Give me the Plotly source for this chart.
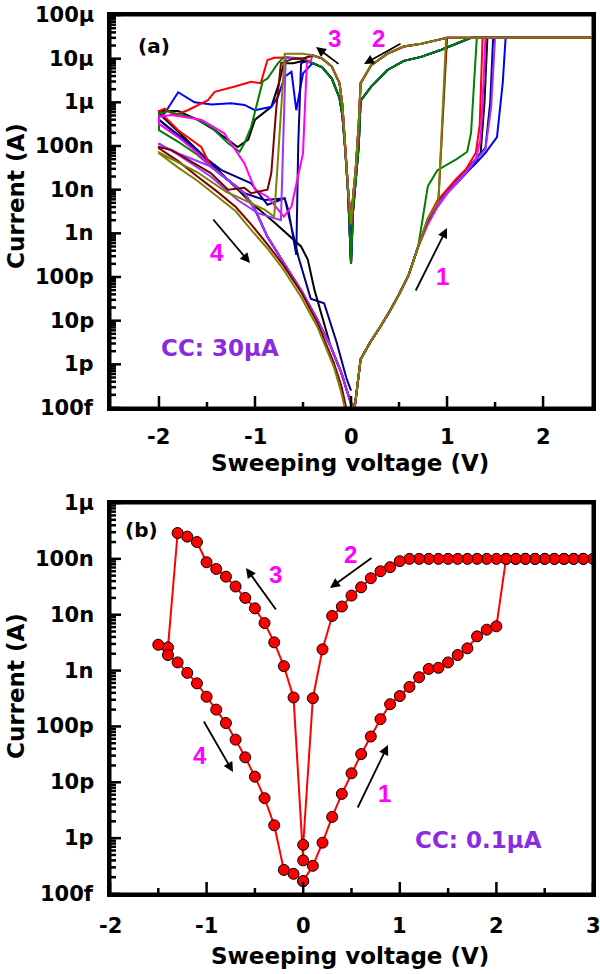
import math
import plotly.graph_objects as go

# ================= Panel (a) data (A vs V) =================
A_SW1_V = [0.0, 0.04, 0.1, 0.2, 0.3, 0.4, 0.5, 0.6, 0.7]
A_SW1_I = [1.3e-13, 1.1e-13, 1.3e-12, 3.2e-12, 7e-12, 1.6e-11, 4e-11, 1.1e-10, 5e-10]
A_SW2_HI_V = [2.5, 1.0, 0.94, 0.73, 0.55, 0.38, 0.21, 0.1, 0.08, 0.05, 0.02, 0.0]
A_SW2_HI_I = [3e-5, 3e-5, 2.8e-5, 2.2e-5, 1.9e-5, 1.3e-5, 7.1e-6, 2.75e-6, 3.2e-7, 3.2e-8, 6.3e-9, 1.6e-9]
A_SW2_LO_V = [2.5, 1.25, 0.94, 0.73, 0.55, 0.38, 0.21, 0.1, 0.08, 0.05, 0.02, 0.0]
A_SW2_LO_I = [3e-5, 3e-5, 1.6e-5, 1.1e-5, 8.9e-6, 5.5e-6, 2.3e-6, 1.1e-6, 1e-7, 2e-8, 3e-9, 2e-10]
A_SW3_V = [0.0, -0.03, -0.06, -0.09, -0.12, -0.2, -0.3, -0.4]
A_SW3_HI_I = [1.6e-9, 1e-8, 1.3e-7, 8.7e-7, 2.75e-6, 6.6e-6, 1.0e-5, 1.2e-5]
A_SW3_LO_I = [2e-10, 8e-9, 8e-8, 5e-7, 1.26e-6, 3.5e-6, 6.3e-6, 7.9e-6]
A_SW4_V = [-1.46, -1.3, -1.11, -1.0, -0.87, -0.7, -0.52, -0.35, -0.21, -0.1, -0.03, 0.0]
A_SW4_I = [3.4e-8, 1.8e-8, 8.3e-9, 3.5e-9, 8.3e-10, 2.1e-10, 5e-11, 1.05e-11, 2.5e-12, 6.3e-13, 2e-13, 1.26e-13]

# red
R1V = [0.8, 0.9, 1.0, 1.1, 1.2, 1.3, 1.34, 1.37, 2.5]
R1I = [2.2e-9, 5.6e-9, 1e-8, 1.8e-8, 3e-8, 7e-8, 3e-7, 3e-5, 3e-5]
R3V = [-0.5, -0.6, -0.7, -0.8, -0.87, -0.94, -1.04, -1.21, -1.42, -1.49, -1.7, -1.84, -1.94, -2.0]
R3I = [1e-5, 1.05e-5, 1.07e-5, 1.05e-5, 9.3e-6, 2.75e-6, 2.95e-6, 2.3e-6, 1.74e-6, 1.12e-6, 6.6e-7, 5.1e-7, 7.2e-7, 6.3e-7]
R4V = [-2.0, -1.8, -1.56]
R4I = [6.3e-7, 2.3e-7, 9.5e-8]
# blue
B1V = [0.8, 0.9, 1.0, 1.1, 1.2, 1.3, 1.4, 1.52, 1.58, 1.61, 2.5]
B1I = [2e-9, 5e-9, 9e-9, 1.5e-8, 2.4e-8, 4e-8, 7e-8, 1.6e-7, 2.8e-6, 3e-5, 3e-5]
B3V = [-0.5, -0.57, -0.62, -0.69, -0.76, -0.83, -1.0, -1.11, -1.25, -1.45, -1.63, -1.8, -1.94, -2.0]
B3I = [4.6e-6, 6.6e-7, 5e-6, 3.9e-6, 1.35e-6, 7.9e-7, 6.6e-7, 8.7e-7, 9.5e-7, 8.9e-7, 1e-6, 1.7e-6, 5.6e-7, 4.7e-7]
B4V = [-2.0, -1.8, -1.6]
B4I = [4e-7, 1.8e-7, 8e-8]
# black
K1V = [0.8, 0.9, 1.0, 1.1, 1.2, 1.3, 1.35, 1.39, 1.42, 2.5]
K1I = [1.8e-9, 4.5e-9, 8.9e-9, 1.4e-8, 2.4e-8, 4.5e-8, 7e-8, 1e-6, 3e-5, 3e-5]
K3V = [-0.5, -0.6, -0.7, -0.75, -0.83, -1.0, -1.07, -1.18, -1.42, -1.6, -1.8, -2.0]
K3I = [8.9e-6, 7.9e-6, 7.9e-6, 2.75e-6, 7.9e-7, 4e-7, 1.4e-7, 9.5e-8, 2.3e-7, 4e-7, 6.3e-7, 6.3e-7]
K4V = [-2.0, -1.5, -1.04, -0.8, -0.52, -0.45, -0.38, -0.21, -0.1, -0.03, 0.0]
K4I = [5.6e-7, 5e-8, 5e-9, 1.8e-9, 5e-10, 2.5e-10, 5e-11, 2.5e-12, 6.3e-13, 2e-13, 1.26e-13]
# green
G1V = [0.8, 0.9, 1.0, 1.1, 1.21, 1.25, 1.28, 1.31, 2.5]
G1I = [1.2e-8, 2.8e-8, 3.8e-8, 5e-8, 7.4e-8, 2e-7, 2.5e-6, 3e-5, 3e-5]
G3V = [-0.5, -0.6, -0.7, -0.76, -0.87, -0.92, -0.97, -1.04, -1.11, -1.16, -1.28, -1.46, -1.63, -1.91, -2.0]
G3I = [1e-5, 1.05e-5, 1.07e-5, 7.9e-6, 3.5e-6, 3e-6, 1.1e-6, 2.75e-7, 1.15e-7, 7.4e-8, 1.15e-7, 2.75e-7, 4.3e-7, 6.2e-7, 5.6e-7]
G4V = [-2.0, -1.8, -1.6]
G4I = [2.3e-7, 1.25e-7, 6.3e-8]
# magenta
M1V = [0.8, 0.9, 1.0, 1.1, 1.2, 1.3, 1.35, 1.38, 1.4, 2.5]
M1I = [1.6e-9, 4e-9, 8e-9, 1.4e-8, 2.5e-8, 5e-8, 1.5e-7, 3e-6, 3e-5, 3e-5]
M3V = [-0.42, -0.46, -0.5, -0.62, -0.7, -0.87, -1.0, -1.11, -1.32, -1.56, -1.87, -2.0]
M3I = [8.9e-6, 7.9e-6, 6.8e-8, 4.1e-9, 2.4e-9, 6.9e-9, 1e-8, 4e-8, 1.95e-7, 4e-7, 5.1e-7, 4.7e-7]
M4V = [-2.0, -1.8, -1.6]
M4I = [3.2e-7, 1.6e-7, 7e-8]
# navy
N1V = [0.8, 0.9, 1.0, 1.1, 1.2, 1.3, 1.4, 1.45, 1.48, 2.5]
N1I = [2e-9, 5e-9, 9e-9, 1.6e-8, 2.8e-8, 5e-8, 9e-8, 1e-6, 3e-5, 3e-5]
N3V = [-0.45, -0.52, -0.55, -0.57, -0.65, -0.69, -0.87, -1.04, -1.35, -1.7, -2.0]
N3I = [8.9e-6, 7.9e-6, 1e-7, 3.2e-10, 3.2e-9, 6.3e-9, 4.5e-9, 1.4e-8, 2.8e-8, 1.1e-7, 4e-7]
N4V = [-2.0, -1.6, -1.3, -1.11, -0.9, -0.69, -0.55, -0.42, -0.28, -0.15, -0.05, 0.0]
N4I = [4e-7, 8e-8, 1.8e-8, 8.3e-9, 5.8e-9, 6.3e-9, 3e-10, 3.2e-11, 2.5e-11, 3.2e-12, 5e-13, 2.5e-13]
# purple
P1V = [0.8, 0.9, 1.0, 1.1, 1.2, 1.3, 1.4, 1.46, 1.5, 2.5]
P1I = [1.8e-9, 4.5e-9, 8.5e-9, 1.5e-8, 2.6e-8, 4.8e-8, 8.5e-8, 8e-7, 3e-5, 3e-5]
P3V = [-0.5, -0.6, -0.68, -0.7, -0.73, -0.97, -1.18, -1.46, -1.8, -2.0]
P3I = [1e-5, 1e-5, 1.1e-5, 3.2e-7, 2e-9, 2.9e-9, 5.8e-9, 2e-8, 6.3e-8, 1.15e-7]
P4V = [-2.0, -1.8, -1.6]
P4I = [1.1e-7, 6.8e-8, 4.5e-8]
# maroon
D1V = [0.8, 0.91, 1.0, 2.5]
D1I = [2e-9, 5.6e-9, 3e-5, 3e-5]
D3V = [-0.5, -0.6, -0.73, -0.78, -0.83, -0.87, -1.04, -1.11, -1.28, -1.46, -1.87, -2.0]
D3I = [1e-5, 1e-5, 7.9e-6, 6.6e-7, 2.4e-8, 1e-8, 8.3e-9, 1.1e-8, 1e-8, 2.4e-8, 8.1e-8, 9.5e-8]
D4V = [-2.0, -1.8, -1.6, -1.39, -1.2, -1.04, -0.87, -0.7, -0.52, -0.35, -0.18, -0.1, -0.05]
D4I = [8.9e-8, 4.5e-8, 2e-8, 8.9e-9, 4e-9, 1.6e-9, 5.6e-10, 1.8e-10, 4.5e-11, 8.9e-12, 1.1e-12, 3.2e-13, 1e-13]
# olive
O1V = [0.8, 0.91, 0.99, 2.5]
O1I = [2.2e-9, 5.4e-9, 3e-5, 3e-5]
O3V = [-0.5, -0.6, -0.69, -0.8, -0.9, -1.16, -1.3, -1.6, -2.0]
O3I = [1.3e-5, 1.3e-5, 1.3e-5, 2.4e-9, 3.5e-9, 6.5e-9, 8.9e-9, 2.5e-8, 7.1e-8]
O4V = [-2.0, -1.8, -1.6, -1.39, -1.2, -1.04, -0.87, -0.7, -0.52, -0.35, -0.18, -0.1, -0.06]
O4I = [6.8e-8, 3.2e-8, 1.6e-8, 6.9e-9, 3.2e-9, 1.2e-9, 4.5e-10, 1.45e-10, 3.5e-11, 7.2e-12, 8.9e-13, 2.2e-13, 8.9e-14]

# ================= Panel (b) data =================
B_V = [0.0, 0.1, 0.2, 0.3, 0.4, 0.5, 0.6, 0.7, 0.8, 0.9, 1.0, 1.1, 1.2, 1.3, 1.4, 1.5, 1.6, 1.7, 1.8, 1.9, 2.0,
       2.1, 2.2, 2.3, 2.4, 2.5, 2.6, 2.7, 2.8, 2.9, 3.0,
       2.9, 2.8, 2.7, 2.6, 2.5, 2.4, 2.3, 2.2, 2.1, 2.0, 1.9, 1.8, 1.7, 1.6, 1.5, 1.4, 1.3, 1.2, 1.1,
       1.0, 0.9, 0.8, 0.7, 0.6, 0.5, 0.4, 0.3, 0.2, 0.1, 0.0,
       0.0, -0.1, -0.2, -0.3, -0.4, -0.5, -0.6, -0.7, -0.8, -0.9, -1.0, -1.1, -1.2, -1.3, -1.4, -1.5,
       -1.4, -1.3, -1.2, -1.1, -1.0, -0.9, -0.8, -0.7, -0.6, -0.5, -0.4, -0.3, -0.2, -0.1, 0.0]
B_I = [1.7e-13, 3.2e-13, 8.3e-13, 2.4e-12, 6.2e-12, 1.45e-11, 3.2e-11, 6.6e-11, 1.35e-10, 2.5e-10, 3.5e-10,
       5.1e-10, 7.6e-10, 1.07e-9, 1.12e-9, 1.4e-9, 1.9e-9, 2.5e-9, 4.1e-9, 5.4e-9, 6.2e-9,
       1e-7, 1e-7, 1e-7, 1e-7, 1e-7, 1e-7, 1e-7, 1e-7, 1e-7, 1e-7,
       1e-7, 1e-7, 1e-7, 1e-7, 1e-7, 1e-7, 1e-7, 1e-7, 1e-7, 1e-7, 1e-7, 1e-7, 1e-7, 1e-7, 1e-7, 1e-7, 1e-7, 1e-7, 1e-7,
       9.1e-8, 7.1e-8, 6.0e-8, 4.5e-8, 3.1e-8, 2.2e-8, 1.4e-8, 9.5e-9, 2.4e-9, 3.2e-10, 7.6e-13,
       4e-13, 3.3e-10, 1.2e-9, 3.2e-9, 7.1e-9, 1.3e-8, 2.0e-8, 3.2e-8, 4.8e-8, 6.6e-8, 8.7e-8, 2.0e-7, 2.5e-7, 2.9e-7, 2.6e-9, 2.9e-9,
       1.9e-9, 1.4e-9, 9.1e-10, 5.9e-10, 3.4e-10, 2.0e-10, 1.15e-10, 5.8e-11, 2.8e-11, 1.26e-11, 5.2e-12, 1.7e-12, 2.7e-13, 2.3e-13, 1.7e-13]

Y_TICKS_A = [1e-13, 1e-12, 1e-11, 1e-10, 1e-9, 1e-8, 1e-7, 1e-6, 1e-5, 1e-4]
Y_TEXT_A = ["100f", "1p", "10p", "100p", "1n", "10n", "100n", "1µ", "10µ", "100µ"]
Y_TICKS_B = [1e-13, 1e-12, 1e-11, 1e-10, 1e-9, 1e-8, 1e-7, 1e-6]
Y_TEXT_B = ["100f", "1p", "10p", "100p", "1n", "10n", "100n", "1µ"]
X_TICKS_A = [-2, -1, 0, 1, 2]
X_TICKS_B = [-2, -1, 0, 1, 2, 3]
X_MINOR_A = [-1.5, -0.5, 0.5, 1.5]
X_MINOR_B = [-1.5, -0.5, 0.5, 1.5, 2.5]

HI = (A_SW2_HI_V, A_SW2_HI_I, A_SW3_HI_I)
LO = (A_SW2_LO_V, A_SW2_LO_I, A_SW3_LO_I)
traces_a = [
    ("black", K1V, K1I, K3V, K3I, K4V, K4I, False, LO),
    ("#0000ff", B1V, B1I, B3V, B3I, B4V, B4I, True, LO),
    ("#000080", N1V, N1I, N3V, N3I, N4V, N4I, False, LO),
    ("#ff0000", R1V, R1I, R3V, R3I, R4V, R4I, True, HI),
    ("#008000", G1V, G1I, G3V, G3I, G4V, G4I, True, LO),
    ("#ff00ff", M1V, M1I, M3V, M3I, M4V, M4I, True, HI),
    ("#9933ff", P1V, P1I, P3V, P3I, P4V, P4I, True, HI),
    ("#800000", D1V, D1I, D3V, D3I, D4V, D4I, False, HI),
    ("#808000", O1V, O1I, O3V, O3I, O4V, O4I, False, HI),
]

fig = go.Figure()
for col, v1, i1, v3, i3, v4, i4, use_sw4, (s2v, s2i, s3i) in traces_a:
    xs = A_SW1_V + v1 + s2v + A_SW3_V + v3 + v4 + (A_SW4_V if use_sw4 else [])
    ys = A_SW1_I + i1 + s2i + s3i + i3 + i4 + (A_SW4_I if use_sw4 else [])
    fig.add_trace(go.Scatter(x=xs, y=ys, mode="lines", line=dict(color=col, width=2),
                             xaxis="x", yaxis="y", showlegend=False, hoverinfo="skip"))

fig.add_trace(go.Scatter(x=B_V, y=B_I, mode="lines+markers",
                         line=dict(color="#ff0000", width=2),
                         marker=dict(symbol="circle", size=11, color="#ff0000",
                                     line=dict(color="black", width=1)),
                         xaxis="x2", yaxis="y2", showlegend=False))

W, H = 600, 974
L, R, T, B = 110, 7, 15, 80
PW, PH = W - L - R, H - T - B

def px(x, y):
    return (x - L) / PW, 1 - (y - T) / PH

ya_dom = [px(0, 408)[1], 1.0]
yb_dom = [0.0, px(0, 503)[1]]
XR_A = [-2.51, 2.52]
XR_B = [-2.0, 3.0]
YR_A = [-13, -4]
YR_B = [-13, -6]

axis_style = dict(showline=True, linewidth=3, linecolor="black", mirror=True, showgrid=False,
                  zeroline=False, ticks="", showticklabels=False, automargin=False)

fig.update_layout(
    width=W, height=H, margin=dict(l=L, r=R, t=T, b=B, autoexpand=False),
    plot_bgcolor="white", paper_bgcolor="white", showlegend=False,
    xaxis=dict(domain=[0, 1], anchor="y", range=XR_A, **axis_style),
    yaxis=dict(domain=ya_dom, anchor="x", type="log", range=YR_A, **axis_style),
    xaxis2=dict(domain=[0, 1], anchor="y2", range=XR_B, **axis_style),
    yaxis2=dict(domain=yb_dom, anchor="x2", type="log", range=YR_B, **axis_style),
)

# frame and tick marks drawn as line traces in each panel's own axes
def frame_and_ticks(xa, ya, xr, yr, dom, xmaj, xmin):
    hpx = (dom[1] - dom[0]) * PH
    dxp = (xr[1] - xr[0]) / PW        # data units per pixel (x)
    dyp = (yr[1] - yr[0]) / hpx       # decades per pixel (y)
    lo, hi = 10 ** yr[0], 10 ** yr[1]
    fx = [xr[0], xr[1], xr[1], xr[0], xr[0]]
    fy = [lo, lo, hi, hi, lo]
    fig.add_trace(go.Scatter(x=fx, y=fy, mode="lines", line=dict(color="black", width=3),
                             xaxis=xa, yaxis=ya, cliponaxis=False, hoverinfo="skip", showlegend=False))
    tx, ty = [], []
    for e in range(yr[0], yr[1] + 1):
        for m in range(1, 10):
            if e == yr[1] and m > 1:
                break
            ln = 11 if m == 1 else 6
            v = m * 10.0 ** e
            tx += [xr[0], xr[0] + ln * dxp, None]
            ty += [v, v, None]
    for v in xmaj:
        tx += [v, v, None]
        ty += [lo, 10 ** (yr[0] + 12 * dyp), None]
    for v in xmin:
        tx += [v, v, None]
        ty += [lo, 10 ** (yr[0] + 6 * dyp), None]
    fig.add_trace(go.Scatter(x=tx, y=ty, mode="lines", line=dict(color="black", width=2.5),
                             xaxis=xa, yaxis=ya, cliponaxis=False, hoverinfo="skip",
                             showlegend=False, connectgaps=False))

frame_and_ticks("x", "y", XR_A, YR_A, ya_dom, X_TICKS_A, X_MINOR_A)
frame_and_ticks("x2", "y2", XR_B, YR_B, yb_dom, X_TICKS_B, X_MINOR_B)

ann = []

def text(x, y, s, size=20, color="black", family="DejaVu Sans", angle=0, xanchor="center"):
    X, Y = px(x, y)
    ann.append(dict(x=X, y=Y, xref="paper", yref="paper", text=s, showarrow=False,
                    xanchor=xanchor, yanchor="middle", textangle=angle, borderpad=0,
                    font=dict(family=family, size=size, color=color, weight="bold")))

def arrow(tx, ty, hx, hy):
    X, Y = px(hx, hy)
    ann.append(dict(x=X, y=Y, xref="paper", yref="paper", ax=tx - hx, ay=ty - hy,
                    axref="pixel", ayref="pixel", text="", showarrow=True,
                    arrowhead=2, arrowsize=1.1, arrowwidth=1.8, arrowcolor="black", standoff=0))

def ylabels(yref, vals, texts):
    for v, t in zip(vals, texts):
        ann.append(dict(x=-15 / PW, y=math.log10(v), xref="paper", yref=yref, text=t,
                        showarrow=False, xanchor="right", yanchor="middle", borderpad=0,
                        font=dict(family="DejaVu Sans", size=21, color="black", weight="bold")))

def xlabels(xref, vals, ypx):
    Y = px(0, ypx)[1]
    for v in vals:
        ann.append(dict(x=v, y=Y, xref=xref, yref="paper", text=str(v), showarrow=False,
                        xanchor="center", yanchor="middle", borderpad=0,
                        font=dict(family="DejaVu Sans", size=21, color="black", weight="bold")))

ylabels("y", Y_TICKS_A, Y_TEXT_A)
ylabels("y2", Y_TICKS_B, Y_TEXT_B)
xlabels("x", X_TICKS_A, 437)
xlabels("x2", X_TICKS_B, 926)

MAG = "#ff00ff"
VIO = "#8a2be2"
for yc in (196, 686):
    text(16, yc, "Current (A)", size=23, angle=-90)
for yc in (463, 956):
    text(350, yc, "Sweeping voltage (V)", size=23)
# panel (a)
text(154, 46, "(a)", size=20)
text(334, 39, "3", size=24, color=MAG, family="Liberation Sans")
text(378, 38, "2", size=24, color=MAG, family="Liberation Sans")
text(217, 252, "4", size=24, color=MAG, family="Liberation Sans")
text(442, 277, "1", size=24, color=MAG, family="Liberation Sans")
arrow(340, 65, 316, 47)
arrow(402, 43, 364, 64)
arrow(212, 218, 250, 263)
arrow(415, 292, 447, 228)
text(220, 348, "CC: 30μA", size=23, color=VIO)
# panel (b)
text(141, 530, "(b)", size=20)
text(275, 574, "3", size=24, color=MAG, family="Liberation Sans")
text(350, 554, "2", size=24, color=MAG, family="Liberation Sans")
text(200, 755, "4", size=24, color=MAG, family="Liberation Sans")
text(384, 793, "1", size=24, color=MAG, family="Liberation Sans")
arrow(277, 611, 246, 568)
arrow(373, 557, 330, 588)
arrow(203, 720, 233, 772)
arrow(357, 809, 388, 745)
text(478, 840, "CC: 0.1μA", size=23, color=VIO)

fig.update_layout(annotations=ann)
fig.write_html("out.html", config={"displayModeBar": False},
               post_script="document.body.style.margin='0px';")
